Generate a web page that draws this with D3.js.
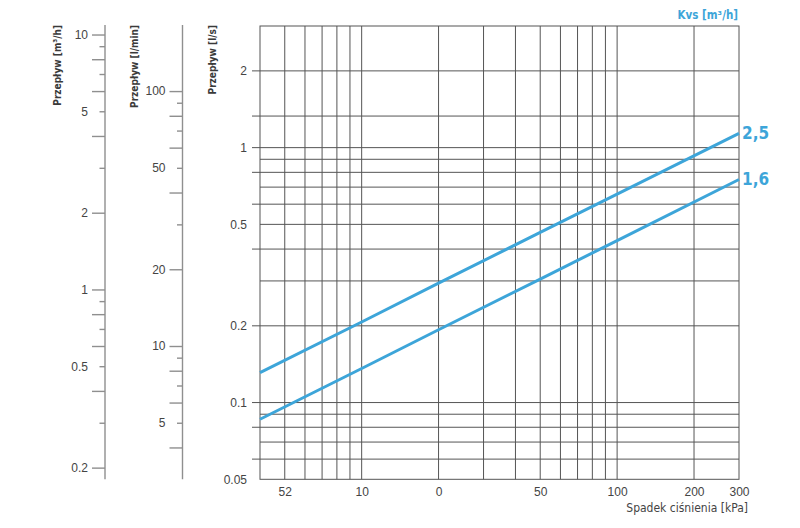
<!DOCTYPE html>
<html>
<head>
<meta charset="utf-8">
<script src="https://cdn.jsdelivr.net/npm/d3@7"></script>
<style>
  body { margin: 0; background: #fff; }
  svg { font-family: "Liberation Sans Narrow", "DejaVu Sans Condensed", sans-serif; }
  .unselectable { user-select: none; }
</style>
</head>
<body>
<svg id="chart" width="800" height="528"></svg>
<script>
// pressure drop [kPa] - x axis (log)
const pressureDomain = [4, 300];
const pressureGrid = [5, 6, 7, 8, 9, 10, 20, 30, 40, 50, 60, 70, 80, 90, 100, 200];
const pressureTicks = [5, 10, 20, 50, 100, 200, 300];
const pressureLabels = ["52", "10", "0", "50", "100", "200", "300"];

// flow [l/s] - main y axis (log)
const flowDomain = [0.05, 3];
const flowGrid = [2, 1.33, 1, 0.9, 0.8, 0.7, 0.6, 0.5, 0.4, 0.3, 0.2, 0.1, 0.09, 0.08, 0.07, 0.06];
const flowLabels = [2, 1, 0.5, 0.2, 0.1, 0.05];

// secondary flow axes
const m3hTicks = [10, 9, 8, 7, 6, 5, 4, 3, 2, 1, 0.9, 0.8, 0.7, 0.6, 0.5, 0.4, 0.3, 0.2];
const m3hLabels = [10, 5, 2, 1, 0.5, 0.2];
const lminTicks = [100, 90, 80, 70, 60, 50, 40, 30, 20, 10, 9, 8, 7, 6, 5, 4];
const lminLabels = [100, 50, 20, 10, 5];

const curvePressure = [4, 10, 20, 50, 100, 300];
const kvs25 = [0.131, 0.207, 0.294, 0.465, 0.657, 1.137];
const kvs16 = [0.086, 0.136, 0.193, 0.305, 0.432, 0.75];
const kvsNames = ["2,5", "1,6"];

const blue = "#3da5d9";
const gridColor = "#555";
const axisGray = "#8f8f8f";
const textColor = "#444";

const svg = d3.select("#chart");
const plotLeft = 260, plotRight = 739, plotTop = 26, plotBottom = 479.3;

const x = d3.scaleLog().domain(pressureDomain).range([plotLeft, plotRight]);
const y = d3.scaleLog().domain(flowDomain).range([plotBottom, plotTop]);
const yM3h = d3.scaleLog().domain(flowDomain.map(v => v * 3.6)).range([plotBottom, plotTop]);
const yLmin = d3.scaleLog().domain(flowDomain.map(v => v * 60)).range([plotBottom, plotTop]);

// leading digit 1,2,4,6,8 -> long tick
function isLong(v) {
    let d = +String(v).replace(/^0\.?0*/, "")[0];
    return [1, 2, 4, 6, 8].includes(d);
}
function fmt(v) { return String(v); }

// --- secondary axes on the left
function sideAxis(scale, xPos, ticks, labels) {
    let g = svg.append("g").attr("transform", "translate(" + xPos + ",0)");
    g.call(d3.axisLeft(scale).tickValues(ticks).tickSize(13)
        .tickFormat(v => labels.includes(v) ? fmt(v) : ""));
    g.select(".domain").attr("d", "M0," + (plotTop - 1) + "V" + plotBottom);
    g.selectAll(".domain, .tick line").attr("stroke", axisGray).attr("stroke-width", 1.4);
    g.selectAll(".tick line").attr("x2", v => isLong(v) ? -13 : -5.5);
    g.selectAll(".tick text").attr("x", -17).attr("fill", textColor)
        .style("font-size", "12px").style("font-family", "inherit");
    return g;
}
sideAxis(yM3h, 105, m3hTicks, m3hLabels);
sideAxis(yLmin, 182.5, lminTicks, lminLabels);

// --- grid
let grid = svg.append("g");
grid.selectAll("line.v").data(pressureGrid).join("line")
    .attr("x1", d => x(d)).attr("x2", d => x(d))
    .attr("y1", plotTop).attr("y2", plotBottom)
    .attr("stroke", gridColor).attr("stroke-width", 1);
grid.selectAll("line.h").data(flowGrid).join("line")
    .attr("x1", d => isLong(d) ? plotLeft - 8 : plotLeft).attr("x2", plotRight)
    .attr("y1", d => y(d)).attr("y2", d => y(d))
    .attr("stroke", gridColor).attr("stroke-width", 1);
grid.append("rect")
    .attr("x", plotLeft).attr("y", plotTop)
    .attr("width", plotRight - plotLeft).attr("height", plotBottom - plotTop)
    .attr("fill", "none").attr("stroke", gridColor).attr("stroke-width", 1);

// --- main y labels
let yAxis = svg.append("g").attr("transform", "translate(" + plotLeft + ",0)")
    .call(d3.axisLeft(y).tickValues(flowLabels).tickSize(0).tickFormat(fmt));
yAxis.select(".domain").remove();
yAxis.selectAll(".tick text").attr("x", -13).attr("fill", textColor)
    .style("font-size", "12px").style("font-family", "inherit");

// --- x labels
let xAxis = svg.append("g").attr("transform", "translate(0," + plotBottom + ")")
    .call(d3.axisBottom(x).tickValues(pressureTicks).tickSize(0)
        .tickFormat((d, i) => pressureLabels[i]));
xAxis.select(".domain").remove();
xAxis.selectAll(".tick text").attr("y", 8).attr("fill", textColor)
    .style("font-size", "12px").style("font-family", "inherit");

// --- curves
const line = d3.line().x(d => x(d[0])).y(d => y(d[1]));
[kvs25, kvs16].forEach((vals, i) => {
    let pts = curvePressure.map((p, j) => [p, vals[j]]);
    svg.append("path").attr("d", line(pts))
        .attr("fill", "none").attr("stroke", blue).attr("stroke-width", 3);
    let last = pts[pts.length - 1];
    svg.append("text")
        .attr("x", x(last[0]) + 3).attr("y", y(last[1]) + 6)
        .attr("fill", blue).attr("font-weight", "bold").style("font-size", "17px")
        .attr("class", "unselectable")
        .text(kvsNames[i]);
});

// --- titles
function vTitle(xPos, txt) {
    svg.append("text")
        .attr("transform", "translate(" + xPos + "," + 25 + ") rotate(-90)")
        .attr("text-anchor", "end").attr("dy", "0.35em")
        .attr("fill", "#3a3a3a").attr("font-weight", "bold").style("font-size", "10px")
        .text(txt);
}
vTitle(57.5, "Przepływ [m³/h]");
vTitle(134, "Przepływ [l/min]");
vTitle(212.5, "Przepływ [l/s]");

svg.append("text").attr("x", 738).attr("y", 19)
    .attr("text-anchor", "end").attr("fill", blue).attr("font-weight", "bold")
    .style("font-size", "11.5px").text("Kvs [m³/h]");

svg.append("text").attr("x", 748).attr("y", 512)
    .attr("text-anchor", "end").attr("fill", textColor)
    .style("font-size", "12px").text("Spadek ciśnienia [kPa]");
</script>
</body>
</html>
